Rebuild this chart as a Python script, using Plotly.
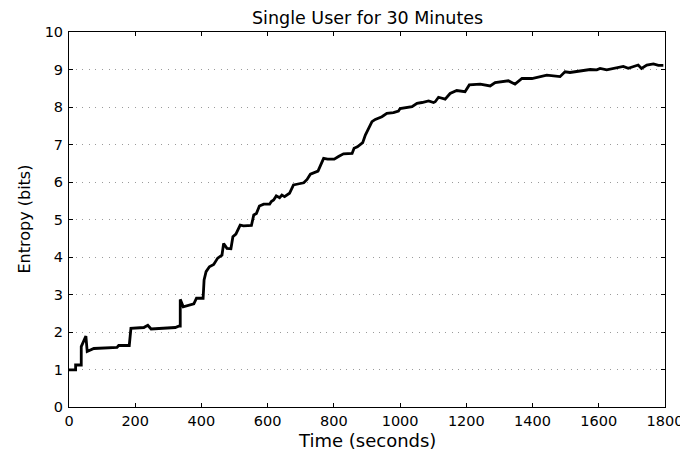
import plotly.graph_objects as go

title_text = "Single User for 30 Minutes"
x_label = "Time (seconds)"
y_label = "Entropy (bits)"
x_ticks = [0, 200, 400, 600, 800, 1000, 1200, 1400, 1600, 1800]
y_ticks = [0, 1, 2, 3, 4, 5, 6, 7, 8, 9, 10]

time_s = [0, 20, 20, 37, 37, 47, 51, 55, 75, 145, 150, 182, 187, 226, 238, 248,
          321, 333, 336, 336, 345, 377, 385, 405, 408, 414, 424, 437, 449, 462,
          467, 477, 489, 495, 504, 517, 527, 551, 558, 566, 575, 588, 606, 611,
          618, 626, 636, 643, 651, 666, 678, 688, 709, 719, 729, 752, 769, 781,
          801, 814, 829, 855, 861, 871, 887, 895, 905, 915, 925, 945, 960, 980,
          995, 1000, 1036, 1051, 1066, 1086, 1101, 1106, 1116, 1136, 1151, 1171,
          1196, 1209, 1242, 1272, 1287, 1327, 1347, 1368, 1398, 1423, 1443, 1483,
          1498, 1513, 1553, 1574, 1594, 1604, 1624, 1644, 1674, 1689, 1704, 1719,
          1729, 1745, 1765, 1780, 1795]
entropy = [0.99, 0.99, 1.12, 1.12, 1.61, 1.79, 1.89, 1.48, 1.56, 1.59, 1.64, 1.64,
           2.10, 2.12, 2.18, 2.08, 2.12, 2.16, 2.16, 2.87, 2.67, 2.75, 2.90, 2.90,
           3.39, 3.61, 3.74, 3.80, 3.97, 4.05, 4.36, 4.23, 4.22, 4.54, 4.61, 4.85,
           4.83, 4.84, 5.12, 5.16, 5.36, 5.41, 5.41, 5.48, 5.52, 5.63, 5.58, 5.65,
           5.61, 5.70, 5.92, 5.94, 5.98, 6.07, 6.21, 6.29, 6.63, 6.61, 6.61, 6.68,
           6.75, 6.76, 6.90, 6.94, 7.05, 7.25, 7.43, 7.61, 7.67, 7.74, 7.83, 7.85,
           7.89, 7.96, 8.01, 8.10, 8.12, 8.16, 8.12, 8.14, 8.26, 8.21, 8.36, 8.44,
           8.41, 8.59, 8.61, 8.56, 8.65, 8.70, 8.61, 8.76, 8.76, 8.81, 8.85, 8.81,
           8.94, 8.92, 8.97, 9.00, 8.99, 9.03, 8.99, 9.03, 9.08, 9.03, 9.07, 9.12,
           9.03, 9.12, 9.15, 9.11, 9.11]

font_family = "DejaVu Sans, Liberation Sans, Arial, sans-serif"

fig = go.Figure()
fig.add_trace(go.Scatter(x=time_s, y=entropy, mode="lines",
                         line=dict(color="black", width=2.8), showlegend=False))

axis_common = dict(showline=True, linecolor="black", linewidth=1, mirror="ticks",
                   ticks="inside", ticklen=4, tickcolor="black", tickwidth=1,
                   zeroline=False, automargin=False,
                   tickfont=dict(size=14.5, color="black", family=font_family))

fig.update_xaxes(range=[0, 1800], tickvals=x_ticks, showgrid=False,
                 ticklabelstandoff=1, **axis_common)
fig.update_yaxes(range=[0, 10], tickvals=y_ticks, showgrid=True,
                 gridcolor="#9a9a9a", gridwidth=1, griddash="1px,5.6px",
                 ticklabelstandoff=2, **axis_common)

fig.add_annotation(text=title_text, xref="paper", yref="paper", x=0.5, y=1,
                   xanchor="center", yanchor="middle", yshift=14, showarrow=False,
                   font=dict(size=17.5, color="black", family=font_family))
fig.add_annotation(text=x_label, xref="paper", yref="paper", x=0.5, y=0,
                   xanchor="center", yanchor="middle", yshift=-33, showarrow=False,
                   font=dict(size=18, color="black", family=font_family))
fig.add_annotation(text=y_label, xref="paper", yref="paper", x=0, y=0.5,
                   xanchor="center", yanchor="middle", xshift=-45, textangle=-90,
                   showarrow=False,
                   font=dict(size=16, color="black", family=font_family))

fig.update_layout(
    width=680, height=444,
    margin=dict(l=60.5, r=23, t=24, b=45, autoexpand=False),
    paper_bgcolor="white", plot_bgcolor="white",
)

fig.write_html("out.html")
